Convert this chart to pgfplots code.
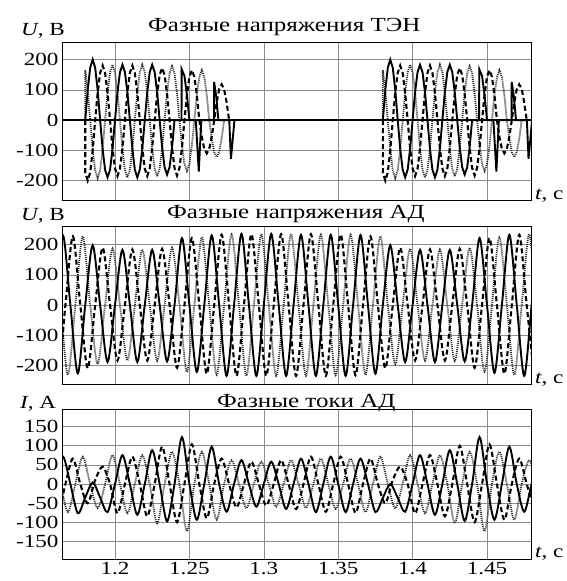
\documentclass[border=0pt]{standalone}
\usepackage{fontspec}
\setmainfont[FakeStretch=1.25]{Liberation Serif}
\usepackage{pgfplots}
\pgfplotsset{compat=1.18}
\usepackage{pgfplotstable}

% ---------- Panel 1: TEN phase voltages (burst 1 time t1, burst 2 time t2) ----------
\pgfplotstableread{
t1 t2 v
1.18000 1.38000 0
1.18167 1.38167 100
1.18333 1.38333 173
1.18500 1.38500 200
1.18667 1.38667 173
1.18833 1.38833 100
1.19000 1.39000 0
1.19167 1.39167 -95
1.19333 1.39333 -164
1.19500 1.39500 -189
1.19667 1.39667 -164
1.19833 1.39833 -95
1.20000 1.40000 0
1.20167 1.40167 92
1.20333 1.40333 158
1.20500 1.40500 183
1.20667 1.40667 158
1.20833 1.40833 92
1.21000 1.41000 0
1.21167 1.41167 -95
1.21333 1.41333 -164
1.21500 1.41500 -189
1.21667 1.41667 -164
1.21833 1.41833 -95
1.22000 1.42000 0
1.22167 1.42167 92
1.22333 1.42333 158
1.22500 1.42500 183
1.22667 1.42667 158
1.22833 1.42833 92
1.23000 1.43000 0
1.23167 1.43167 -90
1.23333 1.43333 -156
1.23500 1.43500 -180
1.23667 1.43667 -156
1.23833 1.43833 -90
1.24000 1.44000 0
1.24470 1.44470 0
1.24480 1.44480 168
1.24667 1.44667 146
1.24833 1.44833 84
1.25000 1.45000 0
1.25430 1.45430 0
1.25630 1.45630 -170
1.25800 1.45800 0
1.26650 1.46650 0
1.26660 1.46660 126
1.26810 1.46810 75
1.26950 1.46950 0
1.27680 1.47680 0
1.27790 1.47790 -128
1.28030 1.48030 0
}\tenA

\pgfplotstableread{
t1 t2 v
1.18000 1.38000 0
1.18000 1.38000 -173
1.18167 1.38167 -200
1.18333 1.38333 -173
1.18500 1.38500 -100
1.18667 1.38667 0
1.18833 1.38833 90
1.19000 1.39000 156
1.19167 1.39167 180
1.19333 1.39333 156
1.19500 1.39500 90
1.19667 1.39667 0
1.19833 1.39833 -93
1.20000 1.40000 -160
1.20167 1.40167 -185
1.20333 1.40333 -160
1.20500 1.40500 -93
1.20667 1.40667 0
1.20833 1.40833 90
1.21000 1.41000 156
1.21167 1.41167 180
1.21333 1.41333 156
1.21500 1.41500 90
1.21667 1.41667 0
1.21833 1.41833 -93
1.22000 1.42000 -160
1.22167 1.42167 -185
1.22333 1.42333 -160
1.22500 1.42500 -93
1.22667 1.42667 0
1.22833 1.42833 86
1.23000 1.43000 149
1.23167 1.43167 172
1.23333 1.43333 149
1.23500 1.43500 86
1.23667 1.43667 0
1.23833 1.43833 -92
1.24000 1.44000 -158
1.24167 1.44167 -183
1.24333 1.44333 -158
1.24500 1.44500 -92
1.24667 1.44667 0
1.24833 1.44833 83
1.25000 1.45000 143
1.25167 1.45167 165
1.25333 1.45333 143
1.25500 1.45500 83
1.25667 1.45667 0
1.25833 1.45833 -55
1.26000 1.46000 -95
1.26167 1.46167 -110
1.26333 1.46333 -95
1.26500 1.46500 -55
1.26667 1.46667 0
1.26833 1.46833 59
1.27000 1.47000 102
1.27167 1.47167 118
1.27333 1.47333 102
1.27500 1.47500 59
1.27667 1.47667 0
}\tenB

\pgfplotstableread{
t1 t2 v
1.18000 1.38000 0
1.18000 1.38000 165
1.18167 1.38167 95
1.18333 1.38333 0
1.18500 1.38500 -96
1.18667 1.38667 -166
1.18833 1.38833 -192
1.19000 1.39000 -166
1.19167 1.39167 -96
1.19333 1.39333 0
1.19500 1.39500 92
1.19667 1.39667 158
1.19833 1.39833 183
1.20000 1.40000 158
1.20167 1.40167 92
1.20333 1.40333 0
1.20500 1.40500 -95
1.20667 1.40667 -165
1.20833 1.40833 -190
1.21000 1.41000 -165
1.21167 1.41167 -95
1.21333 1.41333 0
1.21500 1.41500 92
1.21667 1.41667 158
1.21833 1.41833 183
1.22000 1.42000 158
1.22167 1.42167 92
1.22333 1.42333 0
1.22500 1.42500 -93
1.22667 1.42667 -161
1.22833 1.42833 -186
1.23000 1.43000 -161
1.23167 1.43167 -93
1.23333 1.43333 0
1.23500 1.43500 89
1.23667 1.43667 154
1.23833 1.43833 178
1.24000 1.44000 154
1.24167 1.44167 89
1.24333 1.44333 0
1.24500 1.44500 -84
1.24667 1.44667 -145
1.24833 1.44833 -168
1.25000 1.45000 -145
1.25167 1.45167 -84
1.25333 1.45333 0
1.25500 1.45500 83
1.25667 1.45667 143
1.25833 1.45833 165
1.26000 1.46000 143
1.26167 1.46167 83
1.26333 1.46333 0
1.26500 1.46500 -61
1.26667 1.46667 -106
1.26833 1.46833 -122
1.27000 1.47000 -106
1.27167 1.47167 -61
1.27333 1.47333 0
}\tenC

% ---------- Panel 2: motor phase voltages (peaks and zeros) ----------
\pgfplotstableread{
t v
1.145 233
1.150 0
1.155 -235
1.160 0
1.165 231
1.170 0
1.175 -227
1.180 0
1.185 198
1.190 0
1.195 -189
1.200 0
1.205 183
1.210 0
1.215 -189
1.220 0
1.225 183
1.230 0
1.235 -187
1.240 0
1.245 222
1.250 0
1.255 -222
1.260 0
1.265 231
1.270 0
1.275 -235
1.280 0
1.285 236
1.290 0
1.295 -235
1.300 0
1.305 236
1.310 0
1.315 -235
1.320 0
1.325 233
1.330 0
1.335 -235
1.340 0
1.345 233
1.350 0
1.355 -235
1.360 0
1.365 232
1.370 0
1.375 -228
1.380 0
1.385 198
1.390 0
1.395 -189
1.400 0
1.405 183
1.410 0
1.415 -189
1.420 0
1.425 183
1.430 0
1.435 -187
1.440 0
1.445 222
1.450 0
1.455 -225
1.460 0
1.465 233
1.470 0
1.475 -235
1.480 0
1.485 235
}\adUA

\pgfplotstableread{
t v
1.14167 -235
1.14667 0
1.15167 234
1.15667 0
1.16167 -233
1.16667 0
1.17167 228
1.17667 0
1.18167 -210
1.18667 0
1.19167 190
1.19667 0
1.20167 -184
1.20667 0
1.21167 184
1.21667 0
1.22167 -184
1.22667 0
1.23167 186
1.23667 0
1.24167 -208
1.24667 0
1.25167 222
1.25667 0
1.26167 -228
1.26667 0
1.27167 233
1.27667 0
1.28167 -235
1.28667 0
1.29167 235
1.29667 0
1.30167 -235
1.30667 0
1.31167 235
1.31667 0
1.32167 -235
1.32667 0
1.33167 235
1.33667 0
1.34167 -235
1.34667 0
1.35167 234
1.35667 0
1.36167 -233
1.36667 0
1.37167 228
1.37667 0
1.38167 -210
1.38667 0
1.39167 190
1.39667 0
1.40167 -184
1.40667 0
1.41167 184
1.41667 0
1.42167 -184
1.42667 0
1.43167 186
1.43667 0
1.44167 -208
1.44667 0
1.45167 222
1.45667 0
1.46167 -228
1.46667 0
1.47167 233
1.47667 0
1.48167 -235
}\adUB

\pgfplotstableread{
t v
1.14833 -233
1.15333 0
1.15833 234
1.16333 0
1.16833 -232
1.17333 0
1.17833 228
1.18333 0
1.18833 -196
1.19333 0
1.19833 187
1.20333 0
1.20833 -184
1.21333 0
1.21833 184
1.22333 0
1.22833 -185
1.23333 0
1.23833 190
1.24333 0
1.24833 -222
1.25333 0
1.25833 225
1.26333 0
1.26833 -232
1.27333 0
1.27833 235
1.28333 0
1.28833 -235
1.29333 0
1.29833 235
1.30333 0
1.30833 -235
1.31333 0
1.31833 235
1.32333 0
1.32833 -235
1.33333 0
1.33833 234
1.34333 0
1.34833 -233
1.35333 0
1.35833 234
1.36333 0
1.36833 -232
1.37333 0
1.37833 228
1.38333 0
1.38833 -196
1.39333 0
1.39833 187
1.40333 0
1.40833 -184
1.41333 0
1.41833 184
1.42333 0
1.42833 -185
1.43333 0
1.43833 190
1.44333 0
1.44833 -222
1.45333 0
1.45833 225
1.46333 0
1.46833 -232
1.47333 0
1.47833 235
1.48333 0
}\adUC

% ---------- Panel 3: motor phase currents ----------
\pgfplotstableread{
t v
1.145 71
1.150 0
1.155 -73
1.160 0
1.165 71
1.170 0
1.175 -76
1.180 -35
1.185 4
1.190 -35
1.195 -73
1.200 0
1.205 75
1.210 0
1.215 -80
1.220 0
1.225 88
1.230 0
1.235 -97
1.240 0
1.245 122
1.250 0
1.255 -93
1.260 0
1.265 97
1.270 0
1.275 -72
1.280 0
1.285 62
1.290 0
1.295 -59
1.300 0
1.305 58
1.310 0
1.315 -65
1.320 0
1.325 66
1.330 0
1.335 -73
1.340 0
1.345 71
1.350 0
1.355 -73
1.360 0
1.365 66
1.370 0
1.375 -73
1.380 -36
1.385 0
1.390 -36
1.395 -72
1.400 0
1.405 75
1.410 0
1.415 -80
1.420 0
1.425 88
1.430 0
1.435 -96
1.440 0
1.445 122
1.450 0
1.455 -93
1.460 0
1.465 97
1.470 0
1.475 -72
1.480 0
1.485 62
}\adIA

\pgfplotstableread{
t v
1.14167 -72
1.14667 0
1.15167 71
1.15667 0
1.16167 -75
1.16667 0
1.17167 66
1.17667 0
1.18167 -50
1.18667 10
1.19167 45
1.19667 0
1.20167 -76
1.20667 0
1.21167 71
1.21667 0
1.22167 -84
1.22667 0
1.23167 97
1.23667 0
1.24167 -99
1.24667 0
1.25167 103
1.25667 0
1.26167 -89
1.26667 0
1.27167 66
1.27667 0
1.28167 -61
1.28667 0
1.29167 58
1.29667 0
1.30167 -56
1.30667 0
1.31167 62
1.31667 0
1.32167 -65
1.32667 0
1.33167 71
1.33667 0
1.34167 -72
1.34667 0
1.35167 71
1.35667 0
1.36167 -75
1.36667 0
1.37167 66
1.37667 0
1.38167 -50
1.38667 10
1.39167 45
1.39667 0
1.40167 -76
1.40667 0
1.41167 75
1.41667 0
1.42167 -84
1.42667 0
1.43167 99
1.43667 0
1.44167 -99
1.44667 0
1.45167 103
1.45667 0
1.46167 -93
1.46667 0
1.47167 66
1.47667 0
1.48167 -61
}\adIB

\pgfplotstableread{
t v
1.14833 -65
1.15333 0
1.15833 66
1.16333 0
1.16833 -73
1.17333 0
1.17833 71
1.18333 0
1.18833 -63
1.19333 0
1.19833 75
1.20333 0
1.20833 -76
1.21333 0
1.21833 75
1.22333 0
1.22833 -102
1.23333 0
1.23833 84
1.24333 0
1.24833 -123
1.25333 0
1.25833 84
1.26333 0
1.26833 -93
1.27333 0
1.27833 62
1.28333 0
1.28833 -63
1.29333 0
1.29833 58
1.30333 0
1.30833 -59
1.31333 0
1.31833 62
1.32333 0
1.32833 -62
1.33333 0
1.33833 66
1.34333 0
1.34833 -65
1.35333 0
1.35833 66
1.36333 0
1.36833 -73
1.37333 0
1.37833 71
1.38333 0
1.38833 -63
1.39333 0
1.39833 75
1.40333 0
1.40833 -76
1.41333 0
1.41833 75
1.42333 0
1.42833 -102
1.43333 0
1.43833 84
1.44333 0
1.44833 -123
1.45333 0
1.45833 84
1.46333 0
1.46833 -93
1.47333 0
1.47833 62
1.48333 0
}\adIC

\pgfplotsset{
  base/.style={
    scale only axis, width=469pt,
    xmin=1.16438, xmax=1.47957,
    xtick={1.2,1.25,1.3,1.35,1.4,1.45},
    grid=major, major grid style={black!45, line width=0.5pt},
    major tick length=0pt,
    axis line style={line width=0.8pt},
    tick label style={font=\fontsize{18.5}{21}\selectfont},
    /pgf/number format/assume math mode=true,
    clip=true,
  },
  phA/.style={black, line width=1.9pt},
  phB/.style={black, line width=2.1pt, dash pattern=on 5pt off 3pt},
  phC/.style={black!82, line width=1.8pt, dash pattern=on 1pt off 1pt},
}

\begin{document}
\begin{tikzpicture}[font=\fontsize{18.5}{21}\selectfont]
\useasboundingbox (0,0) rectangle (566pt,-581pt);

% Panel 1
\begin{axis}[base, at={(62pt,-200pt)}, anchor=south west, height=158pt,
  ymin=-264, ymax=258, ytick={-200,-100,0,100,200}, xticklabels={}]
\addplot[phA] coordinates {(1.15,0) (1.49,0)};
\addplot[phC] table[x=t1,y=v] {\tenC};
\addplot[phC] table[x=t2,y=v] {\tenC};
\addplot[phB] table[x=t1,y=v] {\tenB};
\addplot[phB] table[x=t2,y=v] {\tenB};
\addplot[phA] table[x=t1,y=v] {\tenA};
\addplot[phA] table[x=t2,y=v] {\tenA};
\end{axis}

% Panel 2
\begin{axis}[base, at={(62pt,-384pt)}, anchor=south west, height=158pt,
  ymin=-262, ymax=262, ytick={-200,-100,0,100,200}, xticklabels={}]
\addplot[phC, smooth] table[x=t,y=v] {\adUC};
\addplot[phB, smooth] table[x=t,y=v] {\adUB};
\addplot[phA, smooth] table[x=t,y=v] {\adUA};
\end{axis}

% Panel 3
\begin{axis}[base, at={(62pt,-559pt)}, anchor=south west, height=150pt,
  ymin=-195, ymax=195, ytick={-150,-100,-50,0,50,100,150},
  xticklabel style={/pgf/number format/.cd, fixed, precision=2}]
\addplot[phC, smooth] table[x=t,y=v] {\adIC};
\addplot[phB, smooth] table[x=t,y=v] {\adIB};
\addplot[phA, smooth] table[x=t,y=v] {\adIA};
\end{axis}

% Labels and titles
\node[anchor=base west, inner sep=0] at (21pt,-35pt) {\textit{U}, В};
\node[anchor=base west, inner sep=0, font=\fontsize{20}{23}\selectfont] at (148pt,-31pt) {Фазные напряжения ТЭН};
\node[anchor=base west, inner sep=0] at (535pt,-199pt) {\textit{t}, с};

\node[anchor=base west, inner sep=0] at (21pt,-220pt) {\textit{U}, В};
\node[anchor=base west, inner sep=0, font=\fontsize{20}{23}\selectfont] at (167pt,-218pt) {Фазные напряжения АД};
\node[anchor=base west, inner sep=0] at (535pt,-383pt) {\textit{t}, с};

\node[anchor=base west, inner sep=0] at (20pt,-408pt) {\textit{I}, А};
\node[anchor=base west, inner sep=0, font=\fontsize{20}{23}\selectfont] at (217pt,-407pt) {Фазные токи АД};
\node[anchor=base west, inner sep=0] at (535pt,-557pt) {\textit{t}, с};
\end{tikzpicture}
\end{document}
